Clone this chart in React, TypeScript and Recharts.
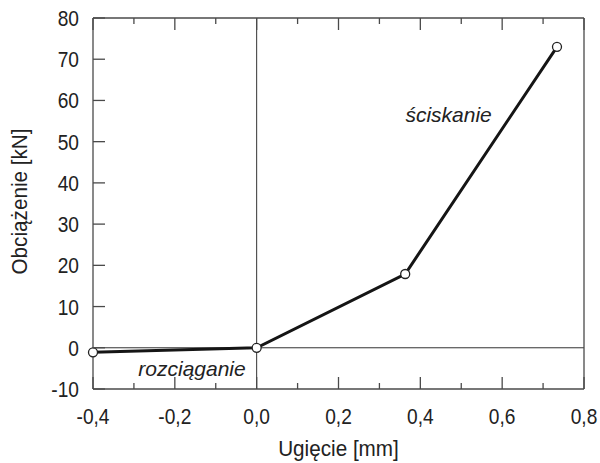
import React from 'react';
import { LineChart, Line, XAxis, YAxis, ReferenceLine, ReferenceDot, Label } from 'recharts';

const deflection = [-0.4, 0, 0.363, 0.734];
const load = [-1.1, 0, 17.9, 73];
const xTicks = [-0.4, -0.3, -0.2, -0.1, 0, 0.1, 0.2, 0.3, 0.4, 0.5, 0.6, 0.7, 0.8];
const yTicks = [-10, 0, 10, 20, 30, 40, 50, 60, 70, 80];
const xLabel = 'Ugięcie [mm]';
const yLabel = 'Obciążenie [kN]';
const noteTexts = ['ściskanie', 'rozciąganie'];
const noteX = [0.469, -0.158];
const noteY = [56.7, -5];

const data = deflection.map((d, i) => ({ x: d, y: load[i] }));

const FRAME = '#4a4a4a';
const FONT = "'Liberation Sans', Arial, sans-serif";
const TICK_SCALE = 0.87;
const LABEL_SCALE = 0.94;

const fmt = (v: number) => v.toFixed(1).replace('.', ',');
const isMajorX = (v: number) => Math.round(v * 10) % 2 === 0;

const BottomTick = (props: any) => {
  const { x, y, payload } = props;
  const major = isMajorX(payload.value);
  return (
    <g>
      <line x1={x} x2={x} y1={y} y2={y - (major ? 12 : 6)} stroke={FRAME} strokeWidth={1.3} />
      {major && (
        <text
          transform={`translate(${x},${y + 35}) scale(${TICK_SCALE},1)`}
          textAnchor="middle"
          fontSize={22}
          fontFamily={FONT}
          fill="#222"
        >
          {fmt(payload.value)}
        </text>
      )}
    </g>
  );
};

const TopTick = (props: any) => {
  const { x, y, payload } = props;
  const major = isMajorX(payload.value);
  return <line x1={x} x2={x} y1={y} y2={y + (major ? 12 : 6)} stroke={FRAME} strokeWidth={1.3} />;
};

const LeftTick = (props: any) => {
  const { x, y, payload } = props;
  return (
    <g>
      <line x1={x} x2={x + 12} y1={y} y2={y} stroke={FRAME} strokeWidth={1.3} />
      <text
        transform={`translate(${x - 14},${y + 8}) scale(${TICK_SCALE},1)`}
        textAnchor="end"
        fontSize={22}
        fontFamily={FONT}
        fill="#222"
      >
        {String(payload.value)}
      </text>
    </g>
  );
};

const RightTick = (props: any) => {
  const { x, y } = props;
  return <line x1={x} x2={x - 12} y1={y} y2={y} stroke={FRAME} strokeWidth={1.3} />;
};

const YLabelContent = (props: any) => {
  const vb = props.viewBox || { x: 0, y: 18, width: 93, height: 371 };
  const bx = vb.x + 27;
  const cy = vb.y + vb.height / 2 - 2;
  return (
    <text
      transform={`translate(${bx},${cy}) rotate(-90) scale(${LABEL_SCALE},1)`}
      textAnchor="middle"
      fontSize={22}
      fontFamily={FONT}
      fill="#222"
    >
      {yLabel}
    </text>
  );
};

const XLabelContent = (props: any) => {
  const vb = props.viewBox || { x: 93, y: 389, width: 491, height: 74 };
  const cx = vb.x + vb.width / 2;
  const by = vb.y + 67;
  return (
    <text
      transform={`translate(${cx},${by}) scale(${LABEL_SCALE},1)`}
      textAnchor="middle"
      fontSize={22}
      fontFamily={FONT}
      fill="#222"
    >
      {xLabel}
    </text>
  );
};

const NoteLabel = (props: any) => {
  const { viewBox, value } = props;
  const cx = viewBox.x + (viewBox.width || 0) / 2;
  const cy = viewBox.y + (viewBox.height || 0) / 2;
  return (
    <text x={cx} y={cy} textAnchor="middle" dominantBaseline="central" fontSize={21} fontStyle="italic" fontFamily={FONT} fill="#222">
      {value}
    </text>
  );
};

export default function App() {
  return (
    <div style={{ position: 'absolute', left: 0, top: 0, width: 600, height: 463, background: '#fff' }}>
      <LineChart width={600} height={463} data={data} margin={{ top: 0, right: 0, bottom: 0, left: 0 }}>
        <XAxis
          xAxisId="bottom"
          dataKey="x"
          type="number"
          domain={[-0.4, 0.8]}
          ticks={xTicks}
          interval={0}
          height={74}
          tickSize={0}
          tickMargin={0}
          tickLine={false}
          tick={<BottomTick />}
          axisLine={{ stroke: FRAME, strokeWidth: 1.3 }}
          orientation="bottom"
        >
          <Label content={<XLabelContent />} />
        </XAxis>
        <XAxis
          xAxisId="top"
          dataKey="x"
          type="number"
          domain={[-0.4, 0.8]}
          ticks={xTicks}
          interval={0}
          height={18}
          tickSize={0}
          tickMargin={0}
          tickLine={false}
          tick={<TopTick />}
          axisLine={{ stroke: FRAME, strokeWidth: 1.3 }}
          orientation="top"
        />
        <YAxis
          yAxisId="left"
          type="number"
          domain={[-10, 80]}
          ticks={yTicks}
          interval={0}
          width={93}
          tickSize={0}
          tickMargin={0}
          tickLine={false}
          tick={<LeftTick />}
          axisLine={{ stroke: FRAME, strokeWidth: 1.3 }}
          orientation="left"
        >
          <Label content={<YLabelContent />} />
        </YAxis>
        <YAxis
          yAxisId="right"
          type="number"
          domain={[-10, 80]}
          ticks={yTicks}
          interval={0}
          width={16}
          tickSize={0}
          tickMargin={0}
          tickLine={false}
          tick={<RightTick />}
          axisLine={{ stroke: FRAME, strokeWidth: 1.3 }}
          orientation="right"
        />
        <ReferenceLine xAxisId="bottom" yAxisId="left" x={0} stroke="#333" strokeWidth={1} />
        <ReferenceLine xAxisId="bottom" yAxisId="left" y={0} stroke="#333" strokeWidth={1} />
        {noteTexts.map((t, i) => (
          <ReferenceDot
            key={t}
            xAxisId="bottom"
            yAxisId="left"
            x={noteX[i]}
            y={noteY[i]}
            r={0}
            fill="none"
            stroke="none"
            label={<NoteLabel value={t} />}
          />
        ))}
        <Line
          xAxisId="bottom"
          yAxisId="left"
          dataKey="y"
          type="linear"
          stroke="#151515"
          strokeWidth={3}
          dot={{ r: 4.5, fill: '#fff', stroke: '#222', strokeWidth: 1.3 }}
          isAnimationActive={false}
        />
      </LineChart>
    </div>
  );
}
